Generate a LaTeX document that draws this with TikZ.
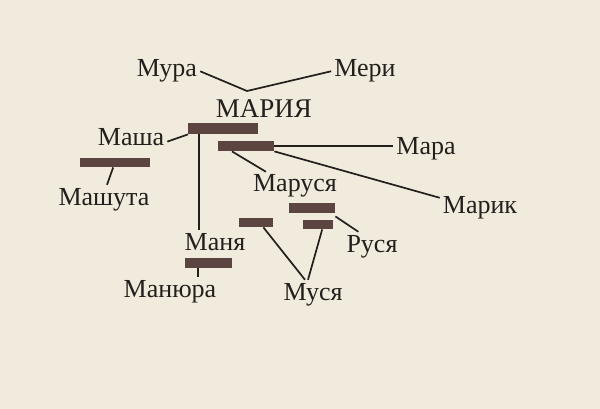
\documentclass[tikz,border=0pt]{standalone}
\usepackage{fontspec}
\setmainfont{Liberation Serif}
\usepackage{xcolor}
\definecolor{paper}{RGB}{241,235,221}
\definecolor{ink}{RGB}{36,30,28}
\definecolor{barbrown}{RGB}{92,68,64}

\begin{document}
\begin{tikzpicture}[x=1pt,y=-1pt,
    word/.style={anchor=base,inner sep=3pt,text=ink,font=\fontsize{26}{30}\selectfont},
    bar/.style={anchor=north west,fill=barbrown,inner sep=0pt,minimum height=10pt},
    link/.style={draw=ink,line width=1.7pt}]
      \fill [paper] (0,0) rectangle (600,409);
      \useasboundingbox (0,0) rectangle (600,409);
      % names
      \node [word] (Mura) at (167,77) {Мура};
      \node [word] (Meri) at (365,77) {Мери};
      \node [word,font=\fontsize{27}{30}\selectfont] (Maria) at (264,118) {МАРИЯ};
      \node [word] (Masha) at (131,146) {Маша};
      \node [word] (Mara) at (426,155) {Мара};
      \node [word] (Marusya) at (295,192) {Маруся};
      \node [word] (Mashuta) at (104,205) {Машута};
      \node [word] (Marik) at (480,213) {Марик};
      \node [word] (Manya) at (215,250) {Маня};
      \node [word] (Rusya) at (372,252) {Руся};
      \node [word] (Manyura) at (170,297) {Манюра};
      \node [word] (Musya) at (313,300) {Муся};
      % bars
      \node [bar,minimum width=70,minimum height=11] (B1) at (188,123) {};
      \node [bar,minimum width=56] (B2) at (218,141) {};
      \node [bar,minimum width=70,minimum height=9] (B7) at (80,158) {};
      \node [bar,minimum width=46] (B3) at (289,203) {};
      \node [bar,minimum width=34,minimum height=9] (B4) at (239,218) {};
      \node [bar,minimum width=30,minimum height=9] (B5) at (303,220) {};
      \node [bar,minimum width=47] (B6) at (185,258) {};
      \coordinate (J) at (247,91);
      % links
      \draw [link] (Mura.east) to (J) to (Meri.west);
      \draw [link] ([yshift=-4pt]Masha.east) to (B1.south west);
      \draw [link] ([xshift=11pt]B1.south west) to ([xshift=11pt]B1.south west |- Manya.north);
      \draw [link] (B2.east) to (B2.east -| Mara.west);
      \draw [link] (B2.south east) to ([yshift=-5pt]Marik.north west);
      \draw [link] ([xshift=14pt]B2.south west) to ([xshift=16pt]Marusya.north west);
      \draw [link] ([xshift=-2pt]B7.south) to ([xshift=3pt]Mashuta.north);
      \draw [link] ([yshift=-3pt]B3.south east) to ([xshift=15pt]Rusya.north west);
      \draw [link] ([xshift=-10pt]B4.south east) to ([xshift=-8pt]Musya.north);
      \draw [link] ([xshift=4pt]B5.south) to ([xshift=-5pt]Musya.north);
      \draw [link] ([xshift=13pt]B6.south west) to ([xshift=13pt]B6.south west |- Manyura.north);
\end{tikzpicture}
\end{document}
